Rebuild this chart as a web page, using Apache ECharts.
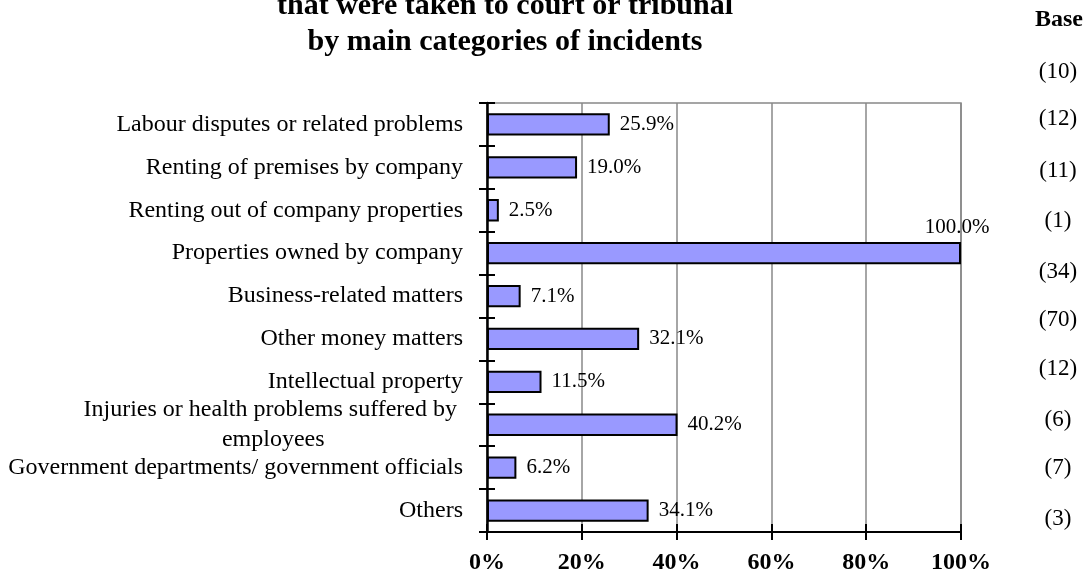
<!DOCTYPE html>
<html>
<head>
<meta charset="utf-8">
<script src="https://cdn.jsdelivr.net/npm/echarts@6/dist/echarts.min.js"></script>
<style>html,body{margin:0;padding:0;background:#fff;}#c{width:1091px;height:579px;}</style>
</head>
<body>
<div id="c"></div>
<script>
var categories = [
  'Labour disputes or related problems',
  'Renting of premises by company',
  'Renting out of company properties',
  'Properties owned by company',
  'Business-related matters',
  'Other money matters',
  'Intellectual property',
  'Injuries or health problems suffered by\nemployees',
  'Government departments/ government officials',
  'Others'
];
var values = [25.9, 19.0, 2.5, 100.0, 7.1, 32.1, 11.5, 40.2, 6.2, 34.1];
var baseValues = ['(10)', '(12)', '(11)', '(1)', '(34)', '(70)', '(12)', '(6)', '(7)', '(3)'];
var xTicks = [0, 20, 40, 60, 80, 100];
var titleLines = ['that were taken to court or tribunal', 'by main categories of incidents'];
var baseHeader = 'Base';

var FONT = '"Liberation Serif", "Times New Roman", serif';
var baseY = [72, 119, 171, 221, 272, 320, 369, 420, 468, 519];

var chart = echarts.init(document.getElementById('c'), null, {renderer: 'canvas'});

var seriesData = values.map(function (v, i) {
  var d = {value: v};
  if (v >= 100) {
    d.label = {position: ['100%', 0], align: 'center', verticalAlign: 'bottom', offset: [-4, -4]};
  }
  return d;
});

var graphics = [{
  type: 'text', x: 1059, y: 20,
  style: {text: baseHeader, font: 'bold 24px ' + FONT, fill: '#000', align: 'center', verticalAlign: 'middle'}
}];
baseValues.forEach(function (b, i) {
  graphics.push({
    type: 'text', x: 1058, y: baseY[i],
    style: {text: b, font: '23px ' + FONT, fill: '#000', align: 'center', verticalAlign: 'middle'}
  });
});

var catLabel = {
  fontFamily: FONT, fontSize: 24, color: '#000', margin: 24,
  formatter: function (v) {
    if (v.indexOf('\n') >= 0) {
      var p = v.split('\n');
      return '{a|' + p[0] + ' }\n{b|' + p[1] + '}';
    }
    return v;
  },
  rich: {
    a: {fontFamily: FONT, fontSize: 24, color: '#000', lineHeight: 30, align: 'right'},
    b: {fontFamily: FONT, fontSize: 24, color: '#000', lineHeight: 30, align: 'center'}
  }
};

chart.setOption({
  animation: false,
  backgroundColor: '#fff',
  title: [{
    text: titleLines[0], left: 500, top: -14, textAlign: 'center',
    textStyle: {fontFamily: FONT, fontWeight: 'bold', fontSize: 30, color: '#000'}
  }, {
    text: titleLines[1], left: 500, top: 22, textAlign: 'center',
    textStyle: {fontFamily: FONT, fontWeight: 'bold', fontSize: 30, color: '#000'}
  }],
  grid: {left: 487, right: 130, top: 103, bottom: 47, show: true, borderColor: '#888', borderWidth: 1.5, containLabel: false},
  xAxis: [{
    type: 'value', min: 0, max: 100, interval: 20,
    axisLine: {show: true, lineStyle: {color: '#000', width: 2}},
    axisTick: {show: true, length: 8, lineStyle: {color: '#000', width: 2}},
    axisLabel: {fontFamily: FONT, fontSize: 24, fontWeight: 'bold', color: '#000', margin: 19,
      formatter: function (v) { return xTicks.indexOf(v) >= 0 ? v + '%' : ''; }},
    splitLine: {show: true, lineStyle: {color: '#888', width: 1.5}}
  }, {
    type: 'value', min: 0, max: 100, interval: 20, position: 'bottom',
    axisLine: {show: false},
    axisTick: {show: true, inside: true, length: 8, lineStyle: {color: '#000', width: 2}},
    axisLabel: {show: false}, splitLine: {show: false}
  }],
  yAxis: [{
    type: 'category', data: categories, inverse: true,
    axisLine: {show: true, lineStyle: {color: '#000', width: 2.5}},
    axisTick: {show: true, length: 8, lineStyle: {color: '#000', width: 2}},
    axisLabel: catLabel,
    splitLine: {show: false}
  }, {
    type: 'category', data: categories, inverse: true, position: 'left',
    axisLine: {show: false},
    axisTick: {show: true, inside: true, length: 8, lineStyle: {color: '#000', width: 2}},
    axisLabel: {show: false}, splitLine: {show: false}
  }],
  series: [{
    type: 'bar', data: seriesData, barWidth: '52%',
    itemStyle: {color: '#9999FF', borderColor: '#000', borderWidth: 2},
    label: {show: true, position: 'right', distance: 10, fontFamily: FONT, fontSize: 21, color: '#000',
      formatter: function (p) { return p.value.toFixed(1) + '%'; }}
  }],
  graphic: graphics
});
</script>
</body>
</html>
